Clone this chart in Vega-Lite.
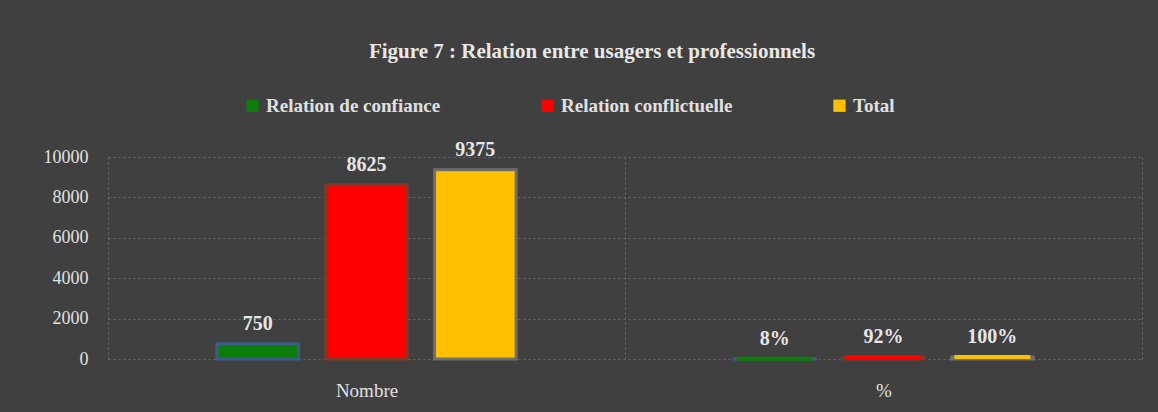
{
  "$schema": "https://vega.github.io/schema/vega-lite/v6.json",
  "width": 1034,
  "height": 202,
  "autosize": {"type": "none"},
  "padding": {"left": 108, "top": 157, "right": 16, "bottom": 53},
  "background": "#404040",
  "config": {
    "view": {"stroke": null},
    "font": "Liberation Serif"
  },
  "title": {
    "text": "Figure 7 : Relation entre usagers et professionnels",
    "font": "Liberation Serif",
    "fontSize": 21,
    "fontWeight": "bold",
    "color": "#e8e8e8",
    "anchor": "middle",
    "frame": "group",
    "dx": -33,
    "offset": 34
  },
  "data": {
    "values": [
      {"groupe": "Nombre", "relation": "Relation de confiance", "valeur": 750, "label": "750"},
      {"groupe": "Nombre", "relation": "Relation conflictuelle", "valeur": 8625, "label": "8625"},
      {"groupe": "Nombre", "relation": "Total", "valeur": 9375, "label": "9375"},
      {"groupe": "%", "relation": "Relation de confiance", "valeur": 8, "label": "8%"},
      {"groupe": "%", "relation": "Relation conflictuelle", "valeur": 92, "label": "92%"},
      {"groupe": "%", "relation": "Total", "valeur": 100, "label": "100%"}
    ]
  },
  "encoding": {
    "x": {
      "field": "groupe",
      "type": "nominal",
      "sort": ["Nombre", "%"],
      "scale": {"paddingInner": 0, "paddingOuter": 0},
      "axis": {
        "title": null,
        "labelAngle": 0,
        "labelFont": "Liberation Serif",
        "labelFontSize": 19,
        "labelColor": "#e0e0e0",
        "labelPadding": 22,
        "ticks": false,
        "domain": false,
        "grid": true,
        "tickBand": "extent",
        "gridColor": "#6a6a6a",
        "gridDash": [2, 3],
        "gridWidth": 1
      }
    },
    "xOffset": {
      "field": "relation",
      "type": "nominal",
      "sort": ["Relation de confiance", "Relation conflictuelle", "Total"],
      "scale": {"paddingInner": 0.25, "paddingOuter": 1.11}
    },
    "y": {
      "field": "valeur",
      "type": "quantitative",
      "scale": {"domain": [0, 10000], "nice": false},
      "axis": {
        "title": null,
        "values": [0, 2000, 4000, 6000, 8000, 10000],
        "format": "d",
        "labelFont": "Liberation Serif",
        "labelFontSize": 18,
        "labelColor": "#e0e0e0",
        "labelPadding": 20,
        "ticks": false,
        "domain": false,
        "grid": true,
        "gridColor": "#6a6a6a",
        "gridDash": [2, 3],
        "gridWidth": 1
      }
    }
  },
  "layer": [
    {
      "mark": {"type": "bar", "strokeWidth": 3, "opacity": 1},
      "encoding": {
        "color": {
          "field": "relation",
          "type": "nominal",
          "sort": ["Relation de confiance", "Relation conflictuelle", "Total"],
          "scale": {
            "domain": ["Relation de confiance", "Relation conflictuelle", "Total"],
            "range": ["#0a7d0a", "#ff0000", "#ffc000"]
          },
          "legend": {
            "title": null,
            "orient": "none",
            "direction": "horizontal",
            "legendX": 135,
            "legendY": -61,
            "symbolType": "square",
            "symbolSize": 150,
            "symbolStrokeWidth": 0,
            "symbolOpacity": 1,
            "labelFont": "Liberation Serif",
            "labelFontSize": 19,
            "labelFontWeight": "bold",
            "labelColor": "#e0e0e0",
            "labelOffset": 4,
            "columnPadding": 97,
            "labelLimit": 400
          }
        },
        "stroke": {
          "field": "relation",
          "type": "nominal",
          "scale": {
            "domain": ["Relation de confiance", "Relation conflictuelle", "Total"],
            "range": ["#3d5a8c", "#7a3a28", "#6e6e6e"]
          },
          "legend": null
        }
      }
    },
    {
      "transform": [{"filter": "datum.groupe === '%'"}],
      "mark": {"type": "tick", "thickness": 4, "size": 76, "orient": "horizontal", "opacity": 1},
      "encoding": {
        "color": {"field": "relation", "type": "nominal"}
      }
    },
    {
      "mark": {
        "type": "text",
        "baseline": "bottom",
        "dy": -10,
        "font": "Liberation Serif",
        "fontSize": 20,
        "fontWeight": "bold",
        "color": "#e6e6e6"
      },
      "encoding": {
        "text": {"field": "label", "type": "nominal"}
      }
    }
  ]
}
